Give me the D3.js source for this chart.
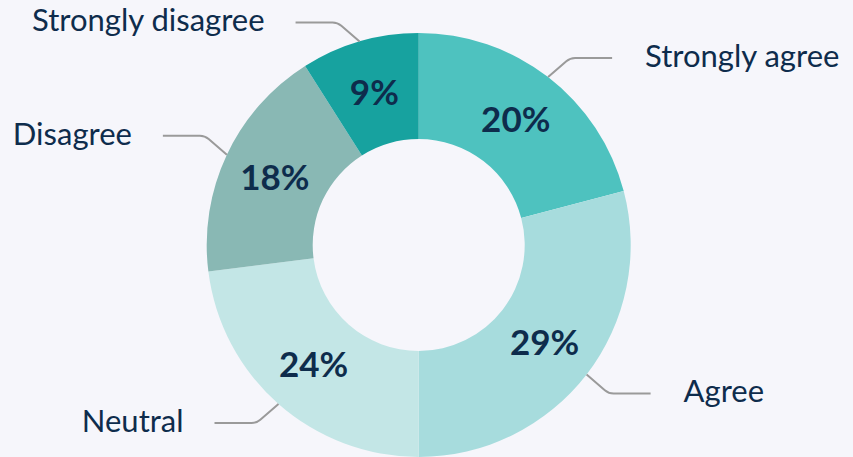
<!DOCTYPE html>
<html>
<head>
<meta charset="utf-8">
<script src="https://cdn.jsdelivr.net/npm/d3@7/dist/d3.min.js"></script>
<style>
  html, body { margin: 0; padding: 0; background: #f6f6fb; }
  svg { display: block; }
</style>
</head>
<body>
<svg id="chart" width="853" height="457"></svg>
<script>
const categories = ["Strongly agree", "Agree", "Neutral", "Disagree", "Strongly disagree"];
const values = [20.9, 29.1, 23, 18, 9];
const percentLabels = ["20%", "29%", "24%", "18%", "9%"];
const colors = ["#4ec2bf", "#a7dcdd", "#c3e6e6", "#89b8b4", "#17a29f"];

const W = 853, H = 457;
const cx = 418.7, cy = 245, R = 212, r = 106;
const textColor = "#0e2c4c";

const svg = d3.select("#chart");
svg.append("rect").attr("width", W).attr("height", H).attr("fill", "#f6f6fb");
const g = svg.append("g").attr("transform", `translate(${cx},${cy})`);

const data = categories.map((c, i) => ({ cat: c, value: values[i], label: percentLabels[i], color: colors[i] }));
const pie = d3.pie().value(d => d.value).sort(null);
const arcs = pie(data);
const arc = d3.arc().innerRadius(r).outerRadius(R);

g.selectAll("path.slice").data(arcs).join("path")
  .attr("class", "slice")
  .attr("d", arc)
  .attr("fill", d => d.data.color);

g.selectAll("text.pct").data(arcs).join("text")
  .attr("class", "pct")
  .attr("x", d => arc.centroid(d)[0])
  .attr("y", d => arc.centroid(d)[1])
  .attr("text-anchor", "middle")
  .attr("dy", "0.36em")
  .attr("font-family", "Lato, sans-serif")
  .attr("font-weight", 700)
  .attr("font-size", 35)
  .attr("fill", textColor)
  .text(d => d.data.label);

// leader lines
const lead = g.append("g");
arcs.forEach(d => {
  const a = (d.startAngle + d.endAngle) / 2;
  const sx0 = R * Math.sin(a), sy0 = -R * Math.cos(a);
  const sx = Math.sign(Math.sin(a)), sy = Math.sign(-Math.cos(a));
  const ex = sx0 + sx * 22, ey = sy0 + sy * 19;
  const fx = ex + sx * 42;
  const k = 5;
  const t = k / Math.hypot(22, 19);
  const p = d3.path();
  p.moveTo(sx0, sy0);
  p.lineTo(ex - sx * 22 * t, ey - sy * 19 * t);
  p.quadraticCurveTo(ex, ey, ex + sx * k, ey);
  p.lineTo(fx, ey);
  lead.append("path").attr("d", p.toString())
    .attr("fill", "none").attr("stroke", "#9a9a9a").attr("stroke-width", 2);
  lead.append("text")
    .attr("x", sx > 0 ? fx + 33 : fx - 31)
    .attr("y", ey + 9)
    .attr("text-anchor", sx > 0 ? "start" : "end")
    .attr("font-family", "Lato, sans-serif")
    .attr("font-size", 31)
    .attr("fill", textColor)
    .text(d.data.cat);
});
</script>
</body>
</html>
